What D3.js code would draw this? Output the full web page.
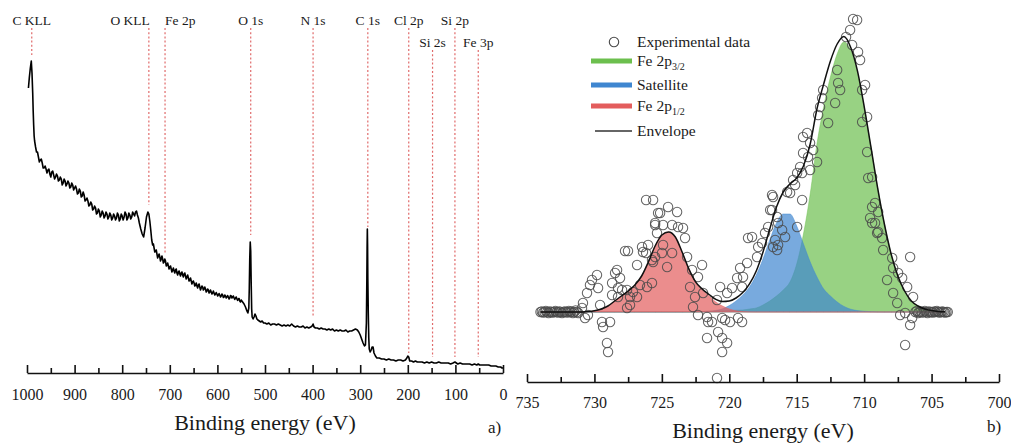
<!DOCTYPE html>
<html><head><meta charset="utf-8">
<script src="https://cdn.jsdelivr.net/npm/d3@7"></script>
<style>
body{margin:0;background:#fff}
svg{display:block}
text{font-family:"Liberation Serif","Times New Roman",serif;fill:#1a1a1a}
</style>
</head><body>
<svg id="c" width="1011" height="443"></svg>
<script>
// ---------------- DATA ----------------
// Panel a: survey spectrum [binding energy (eV), intensity (a.u.)]
const surveySpectrum = [
[997,285],[995,296],[993,305],[991,312],[989.5,300],[988,280],[987,262],[986,248],[985,237],[984,232],[982,226],
[980,221],[976,216],[972,213],[968,210],[964,205],[960,204],[956,203],[952,199],[948,201],[944,198],[940,196],
[936,197],[932,193],[928,194],[924,190],[920,192],[916,189],[912,190],[908,186],[904,188],[900,185],[896,184],
[892,180],[888,182],[884,177],[880,178],[876,173],[872,172],[868,168],[864,169],[860,164],[856,165],[852,160],
[848,162],[844,158],[840,160],[836,157],[832,159],[828,156],[824,158],[820,155],[816,157],[812,155],[808,158],
[804,154],[800,157],[796,156],[792,159],[788,155],[784,158],[780,156],[776,159],[772,161],[768,158],[764,150],
[761,144],[758,139],[755,136],[752,145],[749,156],[746,161],[744,159],[742,152],[740,143],[738,133],[736,128],
[733,125],[730,122],[727,119],[724,117],[721,116],[718,114],[715,114],[712,111],[709,112],[706,108],[703,107],
[700,106],[697,104],[694,103],[691,102],[688,103],[685,100],[682,101],[679,99],[676,100],[673,98],[670,99],
[667,97],[664,96],[661,95],[658,93],[655,92],[652,91],[649,90],[646,88],[643,87],[640,88],[637,86],[634,85],
[631,86],[628,84],[625,84],[622,82],[619,83],[616,81],[613,81],[610,80],[607,80],[604,79],[601,79],[598,78],
[595,78],[592,77],[589,78],[586,76],[583,77],[580,76],[577,76],[574,75],[571,77],[568,76],[565,75],[562,75],
[559,74],[556,74],[553,72],[550,73],[547,71],[544,69],[541,66],[538,62],[536,60],[534,65],[533,85],[532,115],
[531,131],[530,122],[529,90],[528,64],[527,56],[525,54],[523,56],[521,59],[519,57],[517,54],[515,53],[512,52],
[509,51],[506,52],[503,50],[500,50],[496,49],[492,50],[488,48],[484,49],[480,49],[476,48],[472,49],[468,48],
[464,47],[460,48],[456,47],[452,48],[448,47],[444,49],[440,47],[436,46],[432,47],[428,46],[424,46],[420,47],
[416,45],[412,46],[408,45],[404,46],[401,47],[399,49],[397,46],[394,45],[390,45],[386,44],[382,45],[378,44],
[374,44],[370,43],[366,44],[362,43],[358,44],[354,42],[350,43],[346,42],[342,43],[338,42],[334,42],[330,43],
[326,41],[322,42],[318,42],[314,43],[310,44],[306,43],[303,41],[300,38],[297,34],[294,30],[291,27],[289,28],
[287,50],[286,95],[285.5,125],[285,144],[284.5,128],[284,95],[283,60],[282,35],[281,24],[279,21],[277,23],
[275,26],[273,26],[271,20],[268,17],[265,15],[260,15],[255,14],[250,14],[245,13],[240,14],[235,13],[230,13],
[225,12],[220,13],[215,13],[210,12],[205,13],[202,15],[200,17],[198,16],[196,12],[192,12],[188,11],[184,12],
[180,11],[175,11],[170,11],[165,10],[160,11],[155,10],[150,11],[145,10],[140,10],[135,11],[130,10],[125,10],
[120,10],[115,10],[110,9],[105,10],[101,11],[98,10],[95,9],[90,10],[85,9],[80,9],[75,9],[70,9],[65,8],[60,9],
[55,8],[52,9],[49,8],[45,8],[40,8],[35,8],[30,8],[25,7],[20,7],[15,7],[10,6],[5,6],[2,5],[0,5]
];
// extra noisy readings in the high binding-energy part of the survey
const surveyNoise = [
[978,221],[974,211],[970,214],[966,205],[962,207],[958,200],[954,204],[950,196],[946,202],[942,194],[938,199],
[934,192],[930,196],[926,188],[922,194],[918,187],[914,192],[910,185],[906,190],[902,183],[898,187],[894,179],
[890,184],[886,176],[882,181],[878,172],[874,175],[870,167],[866,171],[862,163],[858,167],[854,159],[850,164],
[846,156],[842,162],[838,155],[834,161],[830,154],[826,160],[822,153],[818,159],[814,153],[810,160],[806,152],
[802,159],[798,153],[794,161],[790,153],[786,160],[782,154],[778,161],[774,157],[770,162],[766,155],
[734.5,129],[731.5,121],[728.5,123],[725.5,115],[722.5,119],[719.5,112],[716.5,117],[713.5,110],[710.5,114],
[707.5,107],[704.5,110],[701.5,104],[698.5,107],[695.5,101],[692.5,105],[689.5,100],[686.5,104],[683.5,98],
[680.5,102],[677.5,97],[674.5,101],[671.5,96],[668.5,100],[665.5,94],[662.5,98],[659.5,92],[656.5,95],
[653.5,89],[650.5,92],[647.5,87],[644.5,90],[641.5,85],[638.5,89],[635.5,83],[632.5,87],[629.5,83],[626.5,86],
[623.5,81],[620.5,84],[617.5,80],[614.5,83],[611.5,79],[608.5,82],[605.5,78],[602.5,80.5],[599.5,77],
[596.5,79.5],[593.5,76],[590.5,79],[587.5,75.5],[584.5,78],[581.5,75],[578.5,77.5],[575.5,74],[572.5,77.5],
[569.5,75],[566.5,77],[563.5,73.5],[560.5,76],[557.5,72.5],[554.5,74.5],[551.5,71]
];
const surveyTicksMajor = [1000,900,800,700,600,500,400,300,200,100,0];
const surveyTicksMinor = [950,850,750,650,550,450,350,250,150,50];

// peak assignments
const peakNames    = ["C KLL","O KLL","Fe 2p","O 1s","N 1s","C 1s","Cl 2p","Si 2s","Si 2p","Fe 3p"];
const peakEnergies = [990, 744, 710, 530, 399, 284, 198, 148, 101, 52];
const peakLineTop  = [345, 345, 345, 345, 345, 345, 345, 323, 345, 323];
const peakLineEnd  = [318, 168, 120, 138, 56, 146, 20, 16, 16, 16];

// Panel b: Fe 2p high-resolution fit
const fitEnergy = [734,733.5,733,732.5,732,731.5,731,730.5,730,729.5,729,728.5,728,727.5,727,726.5,726,725.5,725,724.5,
724,723.5,723,722.5,722,721.5,721,720.5,720,719.5,719,718.5,718,717.5,717,716.5,716,715.5,715,714.5,
714,713.5,713,712.5,712,711.5,711,710.5,710,709.5,709,708.5,708,707.5,707,706.5,706,705.5,705,704.5,704];
const fe2p12 = [0,0,0,0,0,0,0.1,0.4,1.2,3,6,11,16,21,27,36,50,66,77,80,
75,60,43,30,22,16,10,6,3,1.2,0.4,0.1,0,0,0,0,0,0,0,0,
0,0,0,0,0,0,0,0,0,0,0,0,0,0,0,0,0,0,0,0,0];
const satellite = [0,0,0,0,0,0,0,0,0,0,0,0,0,0,0,0,0,0,0,0,
0,0,0.1,0.2,0.4,0.8,1.6,3.2,6.4,11,17,25,37,53,72,89,98,98,86,68,
50,35,23,16,10,5.6,2.8,1.4,0.7,0.3,0.1,0,0,0,0,0,0,0,0,0,0];
const fe2p32 = [0,0,0,0,0,0,0,0,0,0,0,0,0,0,0,0,0,0,0,0,
0,0,0,0,0.5,0.7,1,1.2,1.5,1.8,2,3,4,7,11,16,22,30,48,78,
118,168,205,235,258,270,262,240,205,165,124,88,58,36,21,11,6,3,1.5,0.6,0.2];
const envelope = [0,0,0,0,0,0,0.1,0.4,1.2,3,6,11,16,21,27,36,50,66,77,80,
75,60,43.1,30.2,22.9,17.5,12.6,10.4,10.9,14,19.4,28.1,41,60,83,105,120,128,134,146,
168,203,228,251,268,275.6,264.8,241.4,205.7,165.3,124.1,88,58,36,21,11,6,3,1.5,0.6,0.2];

// experimental points [binding energy, intensity]
const experimental = [
[734.0,0],[733.9,0.5],[733.8,-0.5],[733.7,0],[733.6,1],[733.5,0],[733.4,-1],[733.3,0.5],[733.2,0],[733.1,-0.5],
[733.0,0],[732.9,1],[732.8,0],[732.7,-0.5],[732.6,0.5],[732.5,0],[732.4,-1],[732.3,0],[732.2,0.5],[732.1,0],
[732.0,-0.5],[731.9,1],[731.8,0],[731.7,0.5],[731.6,-1],[731.5,0],[731.4,1.5],[731.3,0],[731.2,-1],
[726.17,112],[727.73,61],[727.51,61],[726.40,60],[726.02,67],[726.17,59],[726.84,47],[725.50,87],[725.28,99],
[729.81,37],[730.18,32],[730.33,27],[729.73,24],[730.55,19],[730.85,9],[730.92,4],[730.70,-6],[730.48,-3],
[729.58,7],[729.44,-10],[728.84,-10],[729.36,-15],[729.07,-31],[728.99,-40],[728.47,39],[728.32,42],[728.10,34],
[728.69,29],[728.25,24],[727.95,22],[728.69,17],[728.25,15],[727.58,22],[727.36,15],[727.14,20],[726.62,27],
[726.10,25],[725.73,29],[727.58,4],[727.36,7],[726.84,15],[725.73,52],[725.50,55],[726.47,65],
[724.54,105],[725.13,99],[723.87,100],[725.65,112],[725.50,89],[724.91,87],[724.24,87],[723.80,85],[723.43,84],
[725.36,79],[723.28,74],[724.91,67],[724.24,59],[724.99,59],[725.65,50],[724.61,45],[723.13,55],[722.02,47],
[722.76,42],[722.32,35],[722.91,25],[721.94,19],[722.54,15],[722.69,5],[722.32,-3],[721.65,-5],[721.57,-10],
[721.28,-10],[720.68,25],[720.91,12],[720.16,19],[719.79,24],[719.42,34],[719.05,25],[718.98,35],[719.20,44],
[718.68,49],[718.61,74],[718.31,75],[717.94,55],[717.86,65],[717.57,69],[717.35,79],[717.12,85],[716.97,102],
[716.83,117],[716.75,65],[716.38,67],[720.53,-6],[720.31,-8],[719.94,-10],[719.35,-6],[719.05,-10],[720.83,-20],
[720.53,-26],[720.16,-31],[721.65,-26],[720.53,-40],[720.91,-66],
[710.82,293],[710.52,292],[711.04,282],[711.34,275],[710.89,267],[710.45,260],[710.30,252],[712.00,242],
[711.93,229],[711.78,222],[709.93,227],[710.15,222],[713.04,222],[713.12,214],[713.27,205],[713.41,197],
[712.67,189],[712.15,209],[709.78,195],[710.15,190],[714.53,175],[714.23,179],[714.01,169],[713.78,162],
[714.16,155],[714.53,159],[713.49,150],[714.75,145],[714.97,139],[715.27,132],[714.60,139],[714.01,142],
[715.12,127],[715.49,119],[715.71,120],[714.60,112],[716.75,115],[716.83,102],[716.45,95],[716.38,89],
[714.97,85],[716.08,82],[715.86,75],[716.60,72],[716.45,62],[709.78,160],[709.70,134],[709.41,105],
[709.56,94],[709.19,89],[709.04,79],
[709.41,135],[709.19,109],[708.96,100],[709.41,89],[708.96,80],[708.67,74],[708.59,62],[707.92,54],[706.59,55],
[707.85,44],[707.48,39],[708.30,32],[707.18,34],[706.81,25],[706.37,15],[707.85,19],[707.55,9],[707.33,-3],
[706.96,-1],[706.44,-6],[706.59,-13],[706.96,-33],
[706.2,0],[706.1,1],[706.0,-1],[705.9,0],[705.8,0.5],[705.7,-0.5],[705.6,0],[705.5,1],[705.4,0],[705.3,-1],
[705.2,0.5],[705.1,0],[705.0,0],[704.9,-0.5],[704.8,0.5],[704.7,0],[704.6,1],[704.5,0],[704.4,-0.5],[704.3,0],
[704.2,0.5],[704.1,0],[704.0,-0.5],[703.9,0],[703.8,0]
];
const fe2pTicksMajor = [735,730,725,720,715,710,705,700];
const fe2pTicksMinor = [732.5,727.5,722.5,717.5,712.5,707.5,702.5];

const legendLabels = ["Experimental data","Fe 2p","Satellite","Fe 2p","Envelope"];
const legendSubs   = ["","3/2","","1/2",""];

// ---------------- DRAW ----------------
const svg = d3.select("#c");
const fontF = '"Liberation Serif","Times New Roman",serif';

function drawAxis(g, scale, major, minor, pad){
  const ax = d3.axisBottom(scale).tickValues(major).tickSize(-8).tickSizeOuter(0).tickPadding(pad).tickFormat(d3.format("d"));
  g.call(ax);
  g.append("g").call(d3.axisBottom(scale).tickValues(minor).tickSize(-5).tickSizeOuter(0).tickFormat(""))
    .select(".domain").remove();
  g.selectAll("path,line").attr("stroke","#111").attr("stroke-width",1.6);
  g.selectAll("text").attr("font-family",fontF).attr("font-size",16).attr("fill","#1a1a1a");
}

// ----- Panel a -----
const xa = d3.scaleLinear().domain([1000,0]).range([27,503]);
const ya = d3.scaleLinear().domain([0,345]).range([373,28]);
const ga = svg.append("g");

const peakStyle = {"O KLL":{anchor:"end",dx:1},"Fe 2p":{anchor:"start",dx:0}};
peakNames.forEach((n,i)=>{
  const x = xa(peakEnergies[i]);
  ga.append("line").attr("x1",x).attr("x2",x)
    .attr("y1",ya(peakLineTop[i])).attr("y2",ya(peakLineEnd[i]))
    .attr("stroke","#e06a6a").attr("stroke-width",1.2).attr("stroke-dasharray","2,2.2");
  const st = peakStyle[n] || {anchor:"middle",dx:0};
  ga.append("text").attr("x",x+st.dx).attr("y",ya(peakLineTop[i])-3)
    .attr("text-anchor",st.anchor).attr("font-size",13.5).text(n);
});

const survey = surveySpectrum.concat(surveyNoise).sort((a,b)=>b[0]-a[0]);
ga.append("path").datum(survey)
  .attr("fill","none").attr("stroke","#000").attr("stroke-width",1.6).attr("stroke-linejoin","round")
  .attr("d", d3.line().x(d=>xa(d[0])).y(d=>ya(d[1])));

drawAxis(ga.append("g").attr("transform","translate(0,373)"), xa, surveyTicksMajor, surveyTicksMinor, 16);
ga.append("text").attr("x",265).attr("y",430).attr("text-anchor","middle").attr("font-size",22).text("Binding energy (eV)");
ga.append("text").attr("x",488).attr("y",433).attr("font-size",17).text("a)");

// ----- Panel b -----
const xb = d3.scaleLinear().domain([735,700]).range([527,999]);
const yb = d3.scaleLinear().domain([0,300]).range([312,12]);
const gb = svg.append("g");

const comps = [
  {vals:fe2p32,   color:"#6cbf4e"},
  {vals:satellite,color:"#3f86d0"},
  {vals:fe2p12,   color:"#e35d5d"}
];
comps.forEach(c=>{
  const data = fitEnergy.map((e,i)=>[e,c.vals[i]]);
  gb.append("path").datum(data)
    .attr("fill",c.color).attr("fill-opacity",0.7)
    .attr("stroke",c.color).attr("stroke-opacity",0.6).attr("stroke-width",0.8)
    .attr("d", d3.area().curve(d3.curveMonotoneX).x(d=>xb(d[0])).y0(yb(0)).y1(d=>yb(d[1])));
});

gb.selectAll("circle.exp").data(experimental).join("circle").attr("class","exp")
  .attr("cx",d=>xb(d[0])).attr("cy",d=>yb(d[1])).attr("r",4.7)
  .attr("fill","none").attr("stroke","#4a4a4a").attr("stroke-width",1.05).attr("stroke-opacity",0.85);

gb.append("path").datum(fitEnergy.map((e,i)=>[e,envelope[i]]))
  .attr("fill","none").attr("stroke","#111").attr("stroke-width",1.5)
  .attr("d", d3.line().curve(d3.curveMonotoneX).x(d=>xb(d[0])).y(d=>yb(d[1])));

drawAxis(gb.append("g").attr("transform","translate(0,382)"), xb, fe2pTicksMajor, fe2pTicksMinor, 15);
gb.append("text").attr("x",763).attr("y",438).attr("text-anchor","middle").attr("font-size",22).text("Binding energy (eV)");
gb.append("text").attr("x",987).attr("y",432).attr("font-size",17).text("b)");

// legend
const legRowY = [42,61,85,106,131];
const legColors = [null,"#6cbf4e","#3f86d0","#e35d5d","#333"];
const lg = svg.append("g");
legendLabels.forEach((lab,i)=>{
  const y = legRowY[i];
  if(i===0){
    lg.append("circle").attr("cx",614).attr("cy",y).attr("r",4.7).attr("fill","none").attr("stroke","#4a4a4a").attr("stroke-width",1.1);
  } else if(i===4){
    lg.append("line").attr("x1",595).attr("x2",632).attr("y1",y).attr("y2",y).attr("stroke",legColors[i]).attr("stroke-width",1.6);
  } else {
    lg.append("line").attr("x1",591).attr("x2",632).attr("y1",y).attr("y2",y).attr("stroke",legColors[i]).attr("stroke-width",5);
  }
  const t = lg.append("text").attr("x",637).attr("y",y+5).attr("font-size",15.5).text(lab);
  if(legendSubs[i]) t.append("tspan").attr("font-size",10).attr("dy",4).text(legendSubs[i]);
});
</script>
</body></html>
